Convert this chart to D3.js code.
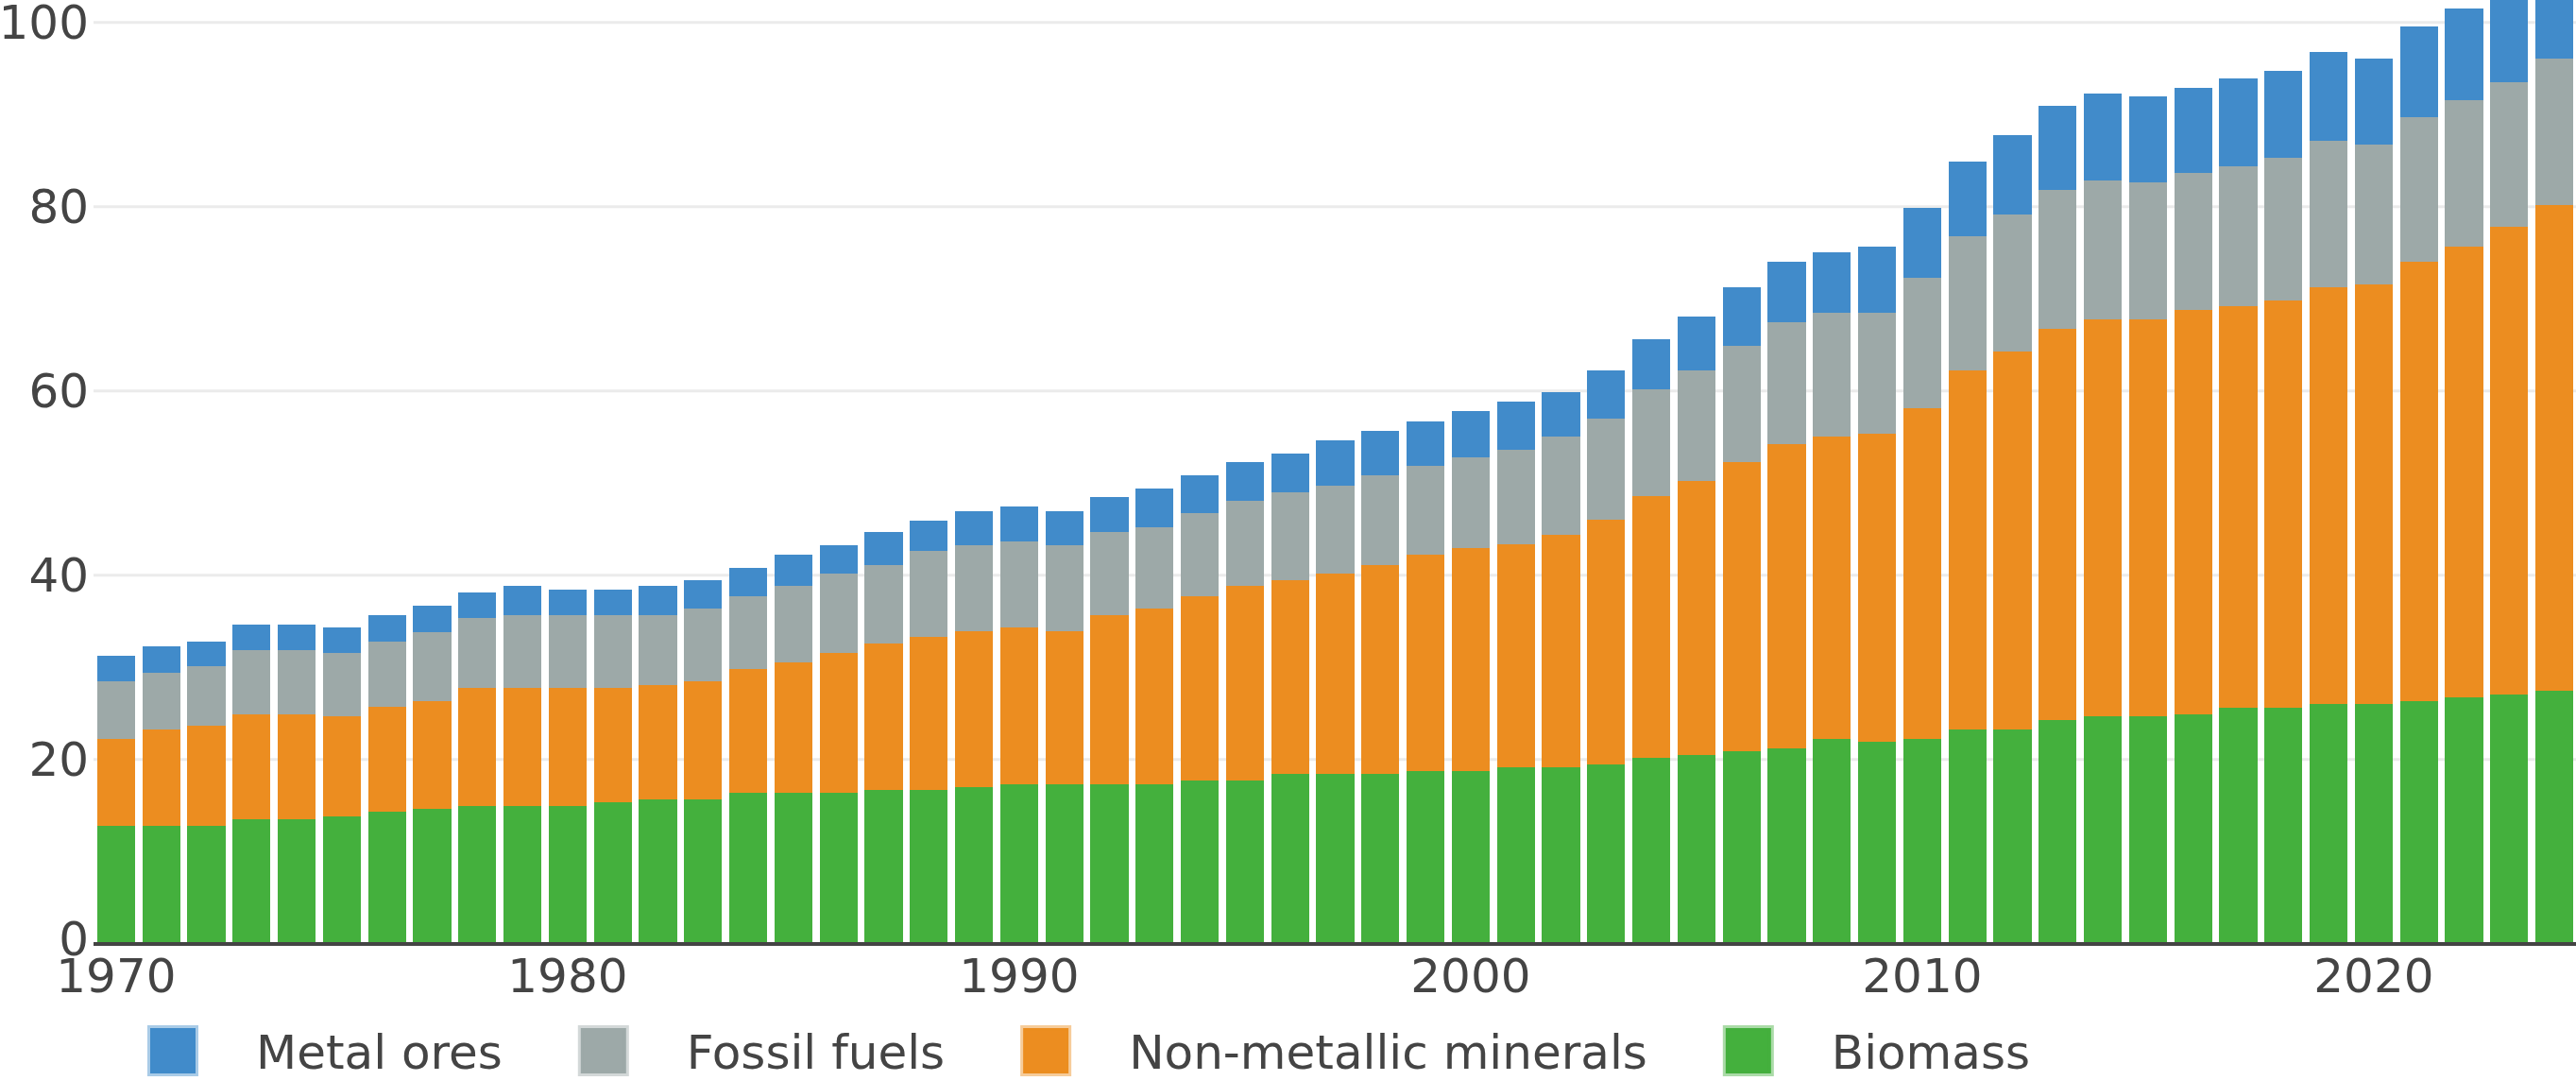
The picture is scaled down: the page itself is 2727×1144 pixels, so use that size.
<!DOCTYPE html>
<html>
<head>
<meta charset="utf-8">
<script src="https://cdn.jsdelivr.net/npm/d3@7"></script>
<style>
  html, body { margin: 0; padding: 0; background: #fff; }
  svg { display: block; }
  text { font-family: "DejaVu Sans", Verdana, sans-serif; fill: #444; }
</style>
</head>
<body>
<svg id="chart" width="2727" height="1144"></svg>
<script>
// ---------- data ----------
const years = d3.range(1970, 2025);

const seriesNames = ["Metal ores", "Fossil fuels", "Non-metallic minerals", "Biomass"];
const seriesColors = ["#418bca", "#9da9a8", "#ec8d20", "#44b03d"];

const biomass = [12.8, 12.8, 12.8, 13.5, 13.5, 13.8, 14.3, 14.6, 14.9, 14.9,
                 14.9, 15.3, 15.6, 15.6, 16.3, 16.3, 16.3, 16.6, 16.6, 17.0,
                 17.3, 17.3, 17.3, 17.3, 17.65, 17.65, 18.36, 18.36, 18.36, 18.7,
                 18.7, 19.1, 19.1, 19.4, 20.1, 20.4, 20.85, 21.2, 22.2, 21.9,
                 22.15, 23.2, 23.2, 24.2, 24.6, 24.6, 24.9, 25.6, 25.6, 25.95,
                 25.95, 26.3, 26.7, 26.97, 27.4];

const nonMetallic = [9.35, 10.4, 10.8, 11.4, 11.4, 10.8, 11.4, 11.7, 12.8, 12.8,
                     12.8, 12.4, 12.4, 12.8, 13.5, 14.2, 15.2, 15.9, 16.7, 16.9,
                     17.0, 16.6, 18.35, 19.0, 20.05, 21.15, 21.04, 21.74, 22.74, 23.45,
                     24.2, 24.2, 25.2, 26.6, 28.4, 29.8, 31.35, 33.0, 32.77, 33.4,
                     35.9, 39.0, 41.0, 42.5, 43.1, 43.1, 43.8, 43.6, 44.2, 45.25,
                     45.55, 47.7, 48.9, 50.83, 52.75];

const fossilFuels = [6.25, 6.2, 6.45, 6.9, 6.9, 6.9, 7.1, 7.5, 7.6, 7.9,
                     7.9, 7.9, 7.6, 7.9, 7.9, 8.3, 8.6, 8.6, 9.3, 9.3,
                     9.3, 9.3, 8.95, 8.9, 9.0, 9.2, 9.6, 9.6, 9.7, 9.65,
                     9.9, 10.25, 10.67, 11.0, 11.6, 11.95, 12.7, 13.2, 13.43, 13.1,
                     14.15, 14.5, 14.9, 15.1, 15.15, 14.9, 14.9, 15.1, 15.5, 15.9,
                     15.2, 15.7, 15.9, 15.7, 15.85];

const metalOres = [2.8, 2.8, 2.75, 2.8, 2.8, 2.8, 2.8, 2.8, 2.75, 3.2,
                   2.8, 2.8, 3.2, 3.1, 3.1, 3.35, 3.1, 3.5, 3.3, 3.75,
                   3.8, 3.75, 3.8, 4.2, 4.1, 4.2, 4.2, 4.86, 4.8, 4.8,
                   5.0, 5.25, 4.83, 5.15, 5.5, 5.85, 6.3, 6.57, 6.57, 7.2,
                   7.6, 8.2, 8.6, 9.1, 9.35, 9.3, 9.3, 9.6, 9.4, 9.6,
                   9.3, 9.8, 10.0, 10.0, 10.2];

const yTickValues = [0, 20, 40, 60, 80, 100];
const xTickLabels = [1970, 1980, 1990, 2000, 2010, 2020];

// ---------- build table ----------
const table = years.map((yr, i) => ({
  year: yr,
  "Biomass": biomass[i],
  "Non-metallic minerals": nonMetallic[i],
  "Fossil fuels": fossilFuels[i],
  "Metal ores": metalOres[i]
}));
const stackOrder = ["Biomass", "Non-metallic minerals", "Fossil fuels", "Metal ores"];
const color = d3.scaleOrdinal().domain(seriesNames).range(seriesColors);

// ---------- layout ----------
const svg = d3.select("#chart");
const plotLeft = 99, plotRight = 2728;
const y = d3.scaleLinear().domain([0, 100]).range([998.3, 23.3]);
const x = d3.scaleBand().domain(years).range([plotLeft, plotRight])
  .paddingInner(0.163).paddingOuter(0.0815);

// gridlines + y labels
const yAxis = d3.axisLeft(y).tickValues(yTickValues)
  .tickSize(-(plotRight - plotLeft)).tickPadding(5).tickFormat(d3.format("d"));
const gy = svg.append("g").attr("transform", `translate(${plotLeft},0)`).call(yAxis);
gy.select(".domain").remove();
gy.selectAll(".tick line").attr("stroke", "#ebebeb").attr("stroke-width", 3)
  .filter(d => d === 0).remove();
gy.selectAll(".tick text").attr("font-size", 50).attr("font-family", "DejaVu Sans, Verdana, sans-serif")
  .attr("fill", "#444").attr("dy", d => d === 0 ? "0.25em" : "0.35em");

// bars
const stacked = d3.stack().keys(stackOrder)(table);
svg.append("g").attr("shape-rendering", "crispEdges")
  .selectAll("g").data(stacked).join("g")
  .attr("fill", d => color(d.key))
  .selectAll("rect").data(d => d).join("rect")
  .attr("x", d => x(d.data.year))
  .attr("width", x.bandwidth())
  .attr("y", d => y(d[1]))
  .attr("height", d => y(d[0]) - y(d[1]));

// x axis
const xAxis = d3.axisBottom(x).tickValues(xTickLabels).tickSize(0).tickSizeOuter(0).tickPadding(15.5);
const gx = svg.append("g").attr("transform", "translate(0,999)").call(xAxis);
gx.select(".domain").attr("stroke", "#444").attr("stroke-width", 4)
  .attr("d", `M${plotLeft},0H${plotRight}`);
gx.selectAll(".tick text").attr("font-size", 50).attr("font-family", "DejaVu Sans, Verdana, sans-serif")
  .attr("fill", "#444");

// legend
const legend = svg.append("g");
let lx = 156;
seriesNames.forEach((name) => {
  const g = legend.append("g");
  g.append("rect")
    .attr("x", lx + 3).attr("y", 1088).attr("width", 48).attr("height", 48)
    .attr("fill", color(name))
    .attr("stroke", color(name)).attr("stroke-opacity", 0.45).attr("stroke-width", 6);
  const t = g.append("text")
    .attr("x", lx + 115).attr("y", 1131)
    .attr("font-size", 50)
    .text(name);
  const w = t.node().getComputedTextLength();
  lx = lx + 115 + w + 80;
});
</script>
</body>
</html>
